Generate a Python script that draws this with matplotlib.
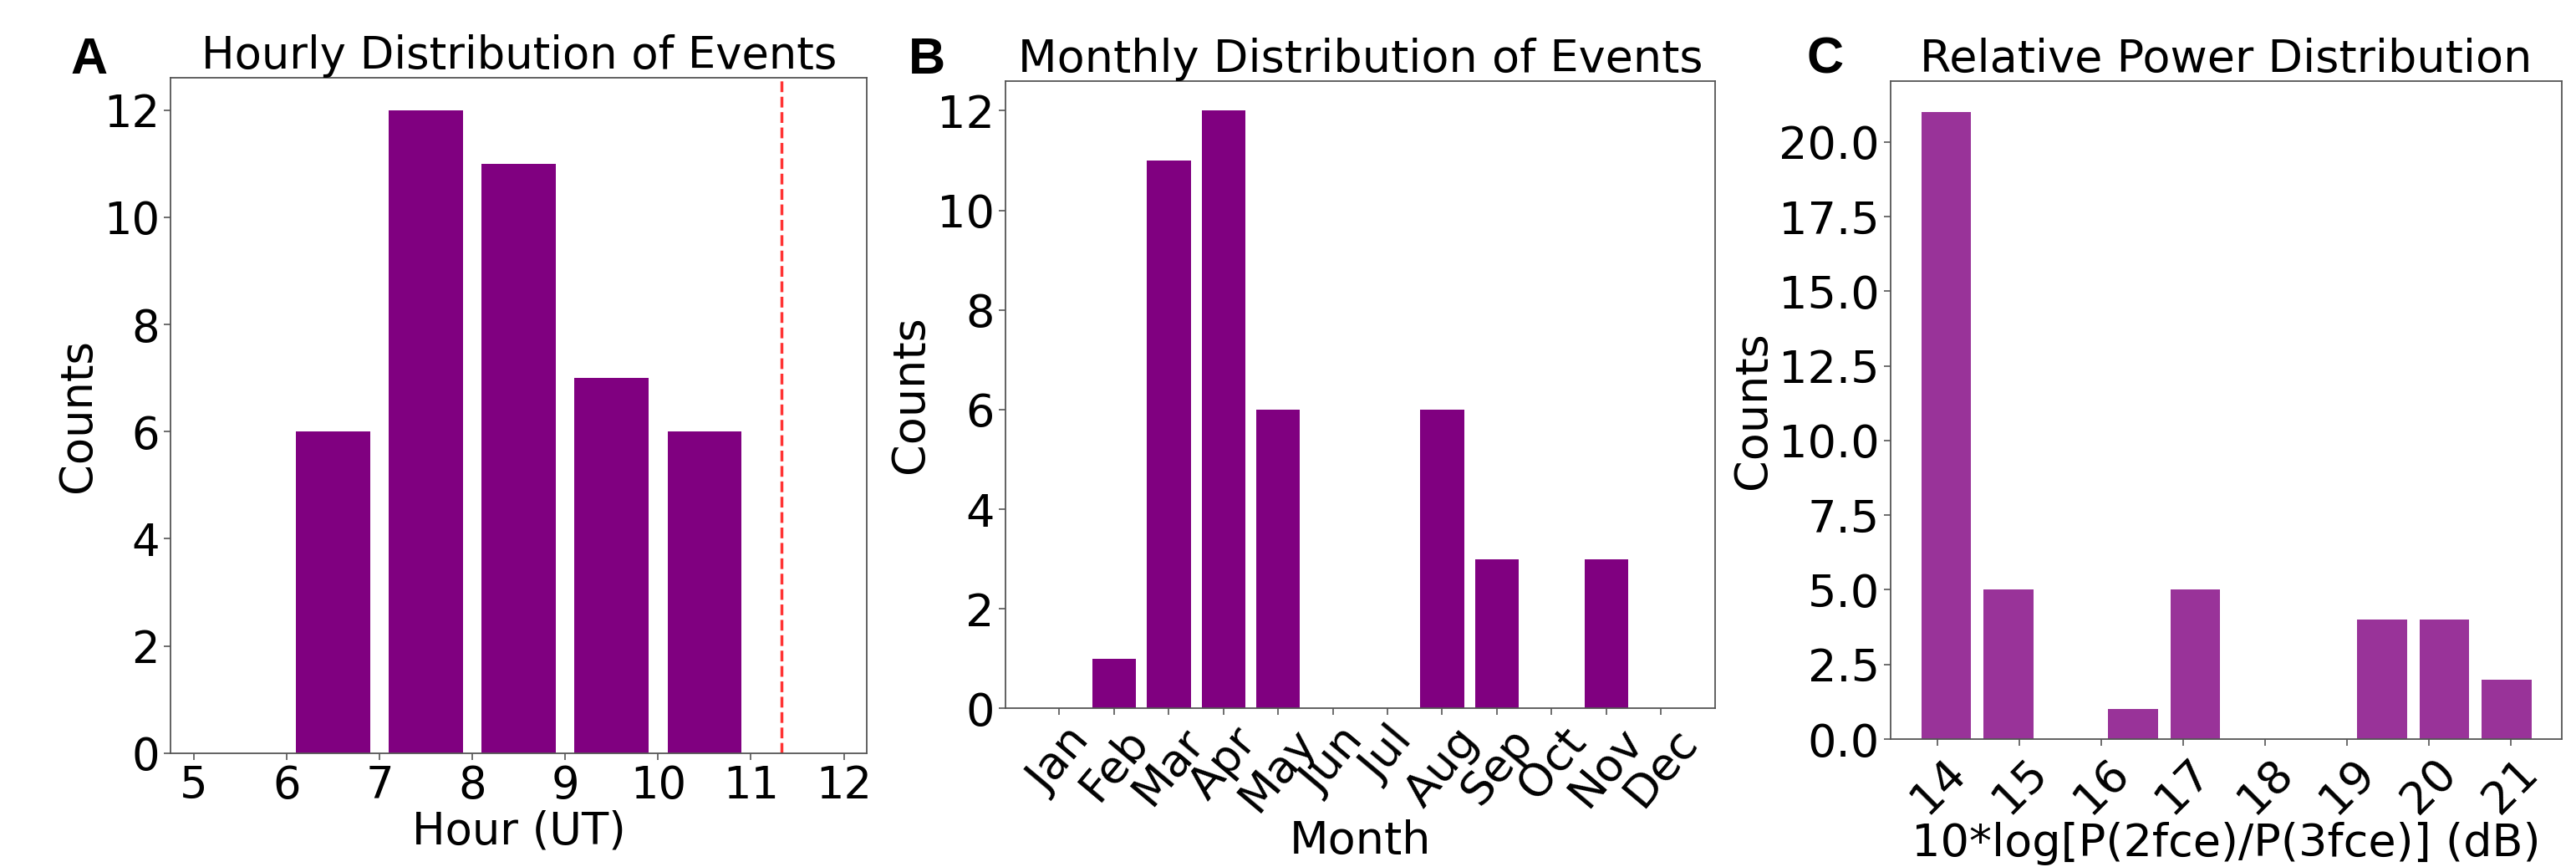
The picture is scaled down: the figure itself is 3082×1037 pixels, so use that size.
import matplotlib
matplotlib.use('Agg')
import matplotlib.pyplot as plt
from matplotlib.ticker import MultipleLocator, FormatStrFormatter
import numpy as np

# Event counts per UT hour bin
hour_bins = [6, 7, 8, 9, 10]
hour_counts = [6, 12, 11, 7, 6]
cutoff_hour = 11.33

# Event counts per month
months = ['Jan', 'Feb', 'Mar', 'Apr', 'May', 'Jun',
          'Jul', 'Aug', 'Sep', 'Oct', 'Nov', 'Dec']
month_counts = [0, 1, 11, 12, 6, 0, 0, 6, 3, 0, 3, 0]

# Relative power histogram (10 bins between min and max ratio)
power_min = 13.72
power_max = 21.33
power_counts = [21, 5, 0, 1, 5, 0, 0, 4, 4, 2]
power_ticks = [14, 15, 16, 17, 18, 19, 20, 21]

W, H = 3082, 1037
fig = plt.figure(figsize=(W / 100, H / 100), dpi=100)


def frame(ax):
    for s in ax.spines.values():
        s.set_color('#555555')
        s.set_linewidth(1.3)
    ax.tick_params(length=6, width=1.2, color='#555555')


def panel_label(x, y, letter):
    fig.text(x / W, 1 - y / H, letter, fontsize=44, fontweight='bold',
             family='Liberation Sans', ha='left', va='top')


# A: hourly distribution
fsA = 38
axA = fig.add_axes([204.3 / W, 1 - 900.7 / H, 833 / W, 807.4 / H])
axA.bar(np.array(hour_bins) + 0.5, hour_counts, width=0.8, color='purple')
axA.axvline(cutoff_hour, color='red', linestyle='--', linewidth=2.5, alpha=0.8)
axA.set_xlim(4.75, 12.25)
axA.set_xticks(range(5, 13))
axA.yaxis.set_major_locator(MultipleLocator(2))
axA.set_title('Hourly Distribution of Events', fontsize=fsA, pad=8)
axA.set_xlabel('Hour (UT)', fontsize=fsA, labelpad=2)
axA.set_ylabel('Counts', fontsize=fsA)
axA.tick_params(labelsize=fsA)
frame(axA)
panel_label(84, 44, 'A')

# B: monthly distribution
fsB = 39
axB = fig.add_axes([1202.7 / W, 1 - 847.3 / H, 849.3 / W, 750.6 / H])
axB.bar(range(12), month_counts, width=0.8, color='purple')
axB.set_xticks(range(12))
axB.set_xticklabels(months, rotation=50)
axB.yaxis.set_major_locator(MultipleLocator(2))
axB.set_title('Monthly Distribution of Events', fontsize=fsB, pad=8)
axB.set_xlabel('Month', fontsize=fsB, labelpad=0)
axB.set_ylabel('Counts', fontsize=fsB)
axB.tick_params(labelsize=fsB)
frame(axB)
panel_label(1087, 44, 'B')

# C: relative power distribution
fsC = 39
edges = np.linspace(power_min, power_max, len(power_counts) + 1)
centers = (edges[:-1] + edges[1:]) / 2
bin_w = edges[1] - edges[0]
axC = fig.add_axes([2262 / W, 1 - 884 / H, 803.3 / W, 787.3 / H])
axC.bar(centers, power_counts, width=0.8 * bin_w, color='purple', alpha=0.8)
axC.set_xticks(power_ticks)
axC.set_xticklabels([str(t) for t in power_ticks], rotation=45)
axC.yaxis.set_major_locator(MultipleLocator(2.5))
axC.yaxis.set_major_formatter(FormatStrFormatter('%.1f'))
axC.set_title('Relative Power Distribution', fontsize=fsC, pad=8)
axC.set_xlabel('10*log[P(2fce)/P(3fce)] (dB)', fontsize=fsC, labelpad=0)
axC.set_ylabel('Counts', fontsize=fsC)
axC.tick_params(labelsize=fsC)
frame(axC)
panel_label(2162, 44, 'C')

fig.savefig('out.png', dpi=100)
plt.close(fig)
